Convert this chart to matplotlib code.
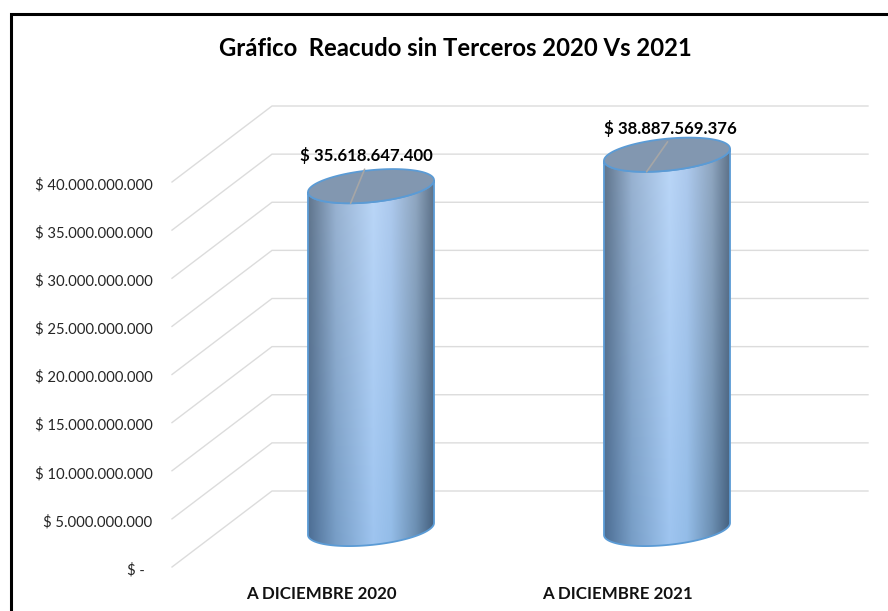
"""
Recaudo 2020 vs 2021 drawn as 3D style cylinders on a flat axes
"""
import numpy as np
import matplotlib
matplotlib.use('Agg')
import matplotlib.pyplot as plt
from matplotlib.lines import Line2D
from matplotlib.patches import PathPatch
from matplotlib.path import Path
from matplotlib.transforms import ScaledTranslation

categories = ['A DICIEMBRE 2020', 'A DICIEMBRE 2021']
values = [35618647400, 38887569376]
value_labels = ['$ 35.618.647.400', '$ 38.887.569.376']
y_ticks = [0, 5e9, 10e9, 15e9, 20e9, 25e9, 30e9, 35e9, 40e9]
y_tick_labels = ['$ -  ', '$ 5.000.000.000', '$ 10.000.000.000', '$ 15.000.000.000', '$ 20.000.000.000',
                 '$ 25.000.000.000', '$ 30.000.000.000', '$ 35.000.000.000', '$ 40.000.000.000']
title = 'Gráfico  Reacudo sin Terceros 2020 Vs 2021'

W, H = 888, 611
plt.rcParams['font.family'] = ['Lato', 'DejaVu Sans']

#plot box in pixels, front plane plus the depth of the side wall
LEFT, RIGHT, TOP, BOTTOM = 172, 868, 106, 567
DEPTH_PX = (100, 76)
PX_X = 296.0 #pixels per category
PX_Y = 385 / 40e9 #pixels per unit of value
DEPTH_X = DEPTH_PX[0] / PX_X
DEPTH_Y = DEPTH_PX[1] / PX_Y
X_MIN = -149 / PX_X
RX, TILT, RY = 63 / PX_X, 6 / PX_Y, 16 / PX_Y

#label and leader end offsets from the rim, in pixels
LABEL_OFFSETS = [(16, 48), (24, 43)]
LEADER_OFFSETS = [(14, 34), (21, 30)]

TOP_ROW = np.array([[0.38, 0.46, 0.55], [0.60, 0.70, 0.82], [0.73, 0.84, 0.97], [0.68, 0.79, 0.93], [0.56, 0.65, 0.75], [0.37, 0.45, 0.54]])
BOTTOM_ROW = np.array([[0.30, 0.43, 0.58], [0.47, 0.62, 0.78], [0.62, 0.77, 0.94], [0.58, 0.74, 0.91], [0.42, 0.56, 0.70], [0.27, 0.38, 0.50]])
STOPS = [0, 0.22, 0.52, 0.66, 0.86, 1]


def ellipse_points(cx, cy, t):
    return cx + RX * np.cos(t), cy + TILT * np.cos(t) + RY * np.sin(t)


def draw_cylinder(ax, i, value):
    cx = i + DEPTH_X / 2
    base = DEPTH_Y / 2
    top = base + value
    #front half of each rim, left to right
    t = np.linspace(np.pi, 2 * np.pi, 60)
    bx, by = ellipse_points(cx, base, t)
    tx, ty = ellipse_points(cx, top, t)
    verts = list(zip(bx, by)) + list(zip(tx[::-1], ty[::-1])) + [(bx[0], by[0])]
    codes = [Path.MOVETO] + [Path.LINETO] * (len(verts) - 2) + [Path.CLOSEPOLY]
    body = PathPatch(Path(verts, codes), facecolor='none', edgecolor='#5b9bd5', lw=1.3, zorder=4)
    ax.add_patch(body)

    #horizontal shading, a bit bluer towards the base
    u = np.linspace(0, 1, 128)
    rows = []
    for w in np.linspace(0, 1, 24):
        row = (1 - w) * TOP_ROW + w * BOTTOM_ROW
        rows.append(np.stack([np.interp(u, STOPS, row[:, c]) for c in range(3)], axis=1))
    im = ax.imshow(np.array(rows), extent=(cx - RX, cx + RX, by.min(), top + TILT), origin='upper',
                   aspect='auto', interpolation='bilinear', zorder=3)
    im.set_clip_path(body)

    #top ellipse
    t = np.linspace(0, 2 * np.pi, 120)
    ex, ey = ellipse_points(cx, top, t)
    ax.fill(ex, ey, facecolor='#8297b0', edgecolor='#5b9bd5', lw=1.3, zorder=5)

    #leader line and data label
    sx, sy = ellipse_points(cx, top, 1.5 * np.pi - 0.33)
    ax.annotate(value_labels[i], xy=(sx, sy), xytext=LABEL_OFFSETS[i], textcoords='offset pixels', ha='center',
                va='center', fontsize=12.1, fontweight='bold', color='black', zorder=7)
    ax.annotate('', xy=(sx, sy), xytext=LEADER_OFFSETS[i], textcoords='offset pixels',
                arrowprops=dict(arrowstyle='-', color='#a6a6a6', lw=1.2, shrinkA=0, shrinkB=0), zorder=6)


fig = plt.figure(figsize=(W / 100, H / 100), dpi=100)
ax = fig.add_axes([LEFT / W, 1 - BOTTOM / H, (RIGHT - LEFT) / W, (BOTTOM - TOP) / H])

x_max = X_MIN + (RIGHT - LEFT) / PX_X
y_max = (BOTTOM - TOP) / PX_Y

#gridlines: side wall then back wall
for tick in y_ticks:
    ax.plot([X_MIN, X_MIN + DEPTH_X, x_max], [tick, tick + DEPTH_Y, tick + DEPTH_Y],
            color='#dcdcdc', lw=1.0, zorder=1, clip_on=False, solid_joinstyle='miter')

for i, value in enumerate(values):
    draw_cylinder(ax, i, value)

ax.set_xlim(X_MIN, x_max)
ax.set_ylim(0, y_max)
ax.set_xticks(range(len(categories)))
ax.set_xticklabels(categories, fontsize=12.2, fontweight='bold', color='#111111')
ax.set_yticks(y_ticks)
ax.set_yticklabels(y_tick_labels, fontsize=10.7, color='#262626')
ax.tick_params(axis='both', length=0)
ax.tick_params(axis='x', pad=14)
ax.tick_params(axis='y', pad=14)
down = ScaledTranslation(0, -1.5 / 100, fig.dpi_scale_trans)
for tick_label in ax.get_yticklabels():
    tick_label.set_transform(tick_label.get_transform() + down)
for spine in ax.spines.values():
    spine.set_visible(False)
ax.patch.set_visible(False)

fig.text(455 / W, 1 - 49 / H, title, ha='center', va='center', fontsize=17.2, fontweight='bold', color='black')

#black frame, open on the right and at the bottom of the crop
fig.add_artist(Line2D([10.5 / W, 10.5 / W, 1], [0, 1 - 13.5 / H, 1 - 13.5 / H], color='black', lw=2.2,
                      solid_joinstyle='miter'))

fig.savefig('out.png', dpi=100)
